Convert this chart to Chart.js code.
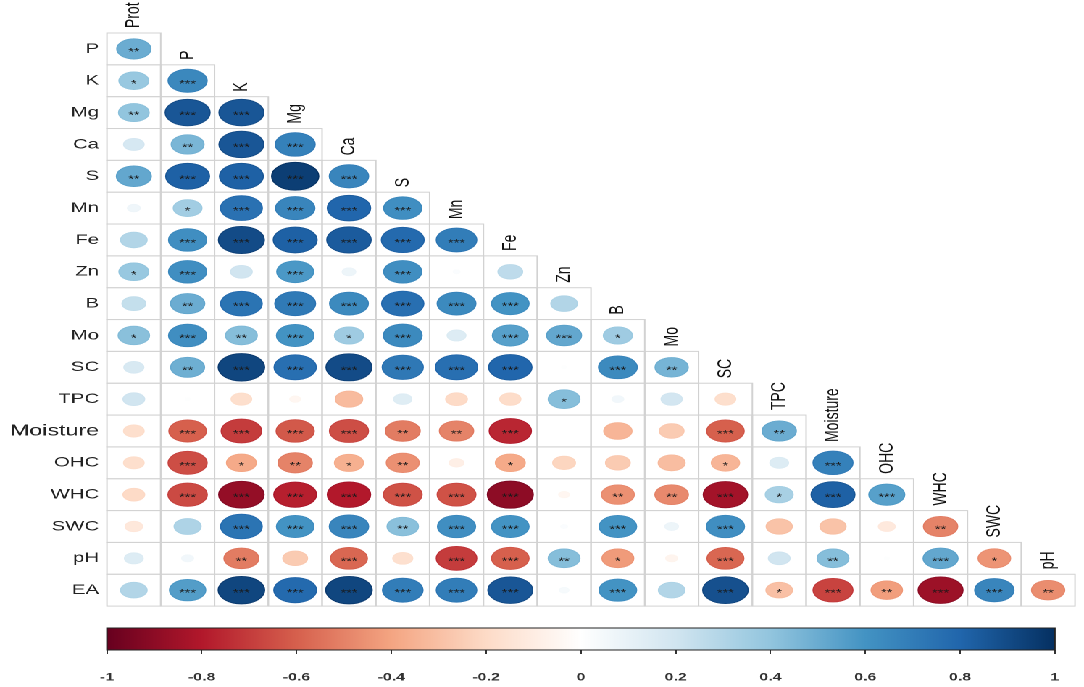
<!DOCTYPE html>
<html>
<head>
<meta charset="utf-8">
<script src="https://cdn.jsdelivr.net/npm/chart.js@4.4.1/dist/chart.umd.min.js"></script>
<style>
  html, body { margin: 0; padding: 0; background: #fff; overflow: hidden; }
  #wrap { position: absolute; left: 0; top: 0; width: 748px; height: 687px; transform: scaleX(1.4492); transform-origin: 0 0; }
  #corr { position: absolute; left: 0; top: 0; }
  #bar { position: absolute; left: 0; top: 620px; }
</style>
</head>
<body>
<div id="wrap">
  <canvas id="corr" width="748" height="620"></canvas>
  <canvas id="bar" width="748" height="67"></canvas>
</div>
<script>
// variables of the matrix
const colLabels = ['Prot','P','K','Mg','Ca','S','Mn','Fe','Zn','B','Mo','SC','TPC','Moisture','OHC','WHC','SWC','pH'];
const rowLabels = ['P','K','Mg','Ca','S','Mn','Fe','Zn','B','Mo','SC','TPC','Moisture','OHC','WHC','SWC','pH','EA'];

// correlations, one array per row (columns Prot .. in order)
const rP = [0.5];
const rK = [0.38, 0.65];
const rMg = [0.4, 0.86, 0.86];
const rCa = [0.18, 0.46, 0.86, 0.68];
const rS = [0.52, 0.82, 0.82, 0.95, 0.66];
const rMn = [0.07, 0.35, 0.75, 0.66, 0.8, 0.62];
const rFe = [0.3, 0.62, 0.9, 0.82, 0.84, 0.78, 0.7];
const rZn = [0.38, 0.62, 0.2, 0.58, 0.08, 0.62, 0.02, 0.26];
const rB = [0.24, 0.5, 0.74, 0.71, 0.64, 0.76, 0.64, 0.6, 0.3];
const rMo = [0.42, 0.62, 0.43, 0.6, 0.36, 0.64, 0.15, 0.55, 0.52, 0.36];
const rSC = [0.17, 0.49, 0.92, 0.76, 0.9, 0.72, 0.76, 0.8, 0.01, 0.64, 0.47];
const rTPC = [0.2, 0.01, -0.18, -0.05, -0.32, 0.14, -0.2, -0.19, 0.43, 0.06, 0.19, -0.18];
const rMoisture = [-0.18, -0.6, -0.7, -0.62, -0.65, -0.52, -0.5, -0.76, 0.0, -0.34, -0.26, -0.6, 0.5];
const rOHC = [-0.18, -0.65, -0.38, -0.5, -0.36, -0.46, -0.09, -0.38, -0.22, -0.26, -0.31, -0.34, 0.15, 0.68];
const rWHC = [-0.2, -0.66, -0.88, -0.78, -0.8, -0.64, -0.64, -0.9, -0.05, -0.46, -0.48, -0.84, 0.33, 0.82, 0.55];
const rSWC = [-0.13, 0.31, 0.74, 0.6, 0.66, 0.42, 0.62, 0.6, 0.02, 0.6, 0.08, 0.62, -0.29, -0.29, -0.12, -0.5];
const rpH = [0.15, 0.06, -0.52, -0.26, -0.58, -0.17, -0.7, -0.6, 0.43, -0.43, -0.06, -0.58, 0.2, 0.43, 0.01, 0.52, -0.45];
const rEA = [0.3, 0.56, 0.92, 0.78, 0.92, 0.7, 0.7, 0.86, 0.04, 0.6, 0.3, 0.88, -0.3, -0.68, -0.42, -0.86, 0.66, -0.47];

// significance stars, same layout
const sP = ['**'];
const sK = ['*','***'];
const sMg = ['**','***','***'];
const sCa = ['','**','***','***'];
const sS = ['**','***','***','***','***'];
const sMn = ['','*','***','***','***','***'];
const sFe = ['','***','***','***','***','***','***'];
const sZn = ['*','***','','***','','***','',''];
const sB = ['','**','***','***','***','***','***','***',''];
const sMo = ['*','***','**','***','*','***','','***','***','*'];
const sSC = ['','**','***','***','***','***','***','***','','***','**'];
const sTPC = ['','','','','','','','','*','','',''];
const sMoisture = ['','***','***','***','***','**','**','***','','','','***','**'];
const sOHC = ['','***','*','**','*','**','','*','','','','*','','***'];
const sWHC = ['','***','***','***','***','***','***','***','','**','**','***','*','***','***'];
const sSWC = ['','','***','***','***','**','***','***','','***','','***','','','','**'];
const spH = ['','','**','','***','','***','***','**','*','','***','','**','','***','*'];
const sEA = ['','***','***','***','***','***','***','***','','***','','***','*','***','**','***','***','**'];

const colorbarTicks = [-1, -0.8, -0.6, -0.4, -0.2, 0, 0.2, 0.4, 0.6, 0.8, 1];

const corrRows = [rP, rK, rMg, rCa, rS, rMn, rFe, rZn, rB, rMo, rSC, rTPC, rMoisture, rOHC, rWHC, rSWC, rpH, rEA];
const sigRows = [sP, sK, sMg, sCa, sS, sMn, sFe, sZn, sB, sMo, sSC, sTPC, sMoisture, sOHC, sWHC, sSWC, spH, sEA];

const rdbu = ['#67001F','#B2182B','#D6604D','#F4A582','#FDDBC7','#FFFFFF','#D1E5F0','#92C5DE','#4393C3','#2166AC','#053061'];

function hexRgb(h) {
  return [parseInt(h.slice(1,3),16), parseInt(h.slice(3,5),16), parseInt(h.slice(5,7),16)];
}
function corrColor(r) {
  const t = (Math.max(-1, Math.min(1, r)) + 1) / 2 * (rdbu.length - 1);
  const i = Math.min(Math.floor(t), rdbu.length - 2);
  const f = t - i;
  const a = hexRgb(rdbu[i]), b = hexRgb(rdbu[i + 1]);
  const c = a.map((v, k) => Math.round(v + (b[k] - v) * f));
  return 'rgb(' + c.join(',') + ')';
}

const points = [];
corrRows.forEach((row, i) => {
  row.forEach((r, j) => points.push({x: j, y: i, r: r, sig: sigRows[i][j]}));
});

const FONT = "'Liberation Sans', Arial, sans-serif";

const cellPlugin = {
  id: 'cells',
  beforeDatasetsDraw(chart) {
    const {ctx, scales: {x, y}} = chart;
    const w = x.getPixelForValue(1) - x.getPixelForValue(0);
    const h = y.getPixelForValue(1) - y.getPixelForValue(0);
    ctx.save();
    ctx.strokeStyle = '#d2d2d2';
    ctx.lineWidth = 1;
    chart.getDatasetMeta(0).data.forEach(el => {
      ctx.strokeRect(el.x - w / 2, el.y - h / 2, w, h);
    });
    ctx.restore();
  },
  afterDatasetsDraw(chart) {
    const {ctx, scales: {x, y}} = chart;
    const w = x.getPixelForValue(1) - x.getPixelForValue(0);
    const h = y.getPixelForValue(1) - y.getPixelForValue(0);
    const data = chart.data.datasets[0].data;
    ctx.save();
    chart.getDatasetMeta(0).data.forEach((el, i) => {
      const d = data[i];
      const k = Math.sqrt(Math.abs(d.r)) * 0.45;
      if (k > 0.001) {
        ctx.beginPath();
        ctx.ellipse(el.x, el.y, k * w, k * h, 0, 0, Math.PI * 2);
        ctx.fillStyle = corrColor(d.r);
        ctx.fill();
        ctx.strokeStyle = corrColor(d.r * 1.05);
        ctx.lineWidth = 0.8;
        ctx.stroke();
      }
      if (d.sig) {
        ctx.fillStyle = '#1a1a1a';
        ctx.font = '10px ' + FONT;
        ctx.textAlign = 'center';
        ctx.textBaseline = 'alphabetic';
        ctx.fillText(d.sig, el.x, el.y + 6);
      }
    });
    // column names on the diagonal
    ctx.fillStyle = '#111';
    ctx.font = '14px ' + FONT;
    ctx.textAlign = 'left';
    ctx.textBaseline = 'middle';
    colLabels.forEach((lab, j) => {
      const px = x.getPixelForValue(j);
      const py = y.getPixelForValue(j - 1) + 11;
      ctx.save();
      ctx.translate(px, py);
      ctx.rotate(-Math.PI / 2);
      ctx.fillText(lab, 0, 0);
      ctx.restore();
    });
    ctx.restore();
  }
};

new Chart(document.getElementById('corr'), {
  type: 'scatter',
  data: {
    datasets: [{ data: points, pointRadius: 0, pointHoverRadius: 0 }]
  },
  options: {
    responsive: false,
    animation: false,
    devicePixelRatio: 2,
    events: [],
    layout: { padding: { top: 33, right: 6.2, bottom: 3, left: 0 } },
    plugins: { legend: { display: false }, tooltip: { enabled: false } },
    scales: {
      x: { type: 'linear', min: -0.5, max: 17.5, display: false },
      y: {
        type: 'linear', min: -0.5, max: 17.5, reverse: true,
        grid: { display: false, drawTicks: false, tickLength: 0 },
        border: { display: false },
        afterBuildTicks: scale => { scale.ticks = rowLabels.map((l, i) => ({ value: i })); },
        afterFit: scale => { scale.width = 73.8; },
        ticks: {
          padding: 5.5,
          color: '#222',
          callback: v => rowLabels[v],
          font: ctx => ({ family: FONT, size: rowLabels[ctx.index] === 'Moisture' ? 16 : 14 })
        }
      }
    }
  },
  plugins: [cellPlugin]
});

const barPlugin = {
  id: 'colorbar',
  beforeDatasetsDraw(chart) {
    const {ctx, chartArea: a, scales: {x}} = chart;
    const x0 = x.getPixelForValue(-1), x1 = x.getPixelForValue(1);
    const g = ctx.createLinearGradient(x0, 0, x1, 0);
    rdbu.forEach((c, i) => g.addColorStop(i / (rdbu.length - 1), c));
    ctx.save();
    ctx.fillStyle = g;
    ctx.fillRect(a.left, a.top, a.right - a.left, a.bottom - a.top);
    ctx.strokeStyle = '#222';
    ctx.lineWidth = 1;
    ctx.strokeRect(a.left, a.top, a.right - a.left, a.bottom - a.top);
    ctx.restore();
  }
};

new Chart(document.getElementById('bar'), {
  type: 'scatter',
  data: { datasets: [{ data: [] }] },
  options: {
    responsive: false,
    animation: false,
    devicePixelRatio: 2,
    events: [],
    layout: { padding: { top: 8, right: 6.2, bottom: 0, left: 73.8 } },
    plugins: { legend: { display: false }, tooltip: { enabled: false } },
    scales: {
      x: {
        type: 'linear', min: -1, max: 1,
        afterBuildTicks: scale => { scale.ticks = colorbarTicks.map(v => ({ value: v })); },
        afterFit: scale => { scale.height = 37; },
        grid: { drawOnChartArea: false, tickLength: 4, color: '#333', lineWidth: 1 },
        border: { display: false },
        ticks: {
          padding: 17,
          maxRotation: 0,
          autoSkip: false,
          color: '#333',
          font: { family: FONT, size: 11, weight: 'bold' },
          callback: v => String(v)
        }
      },
      y: { min: 0, max: 1, display: false }
    }
  },
  plugins: [barPlugin]
});
</script>
</body>
</html>
